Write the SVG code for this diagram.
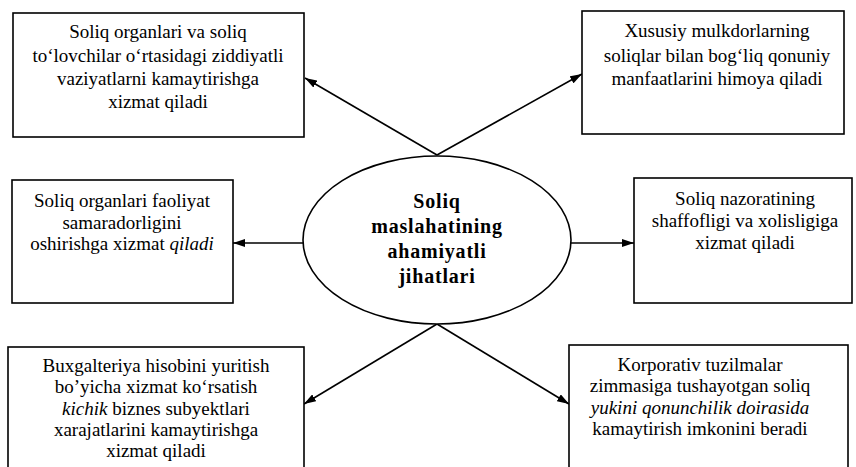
<svg xmlns="http://www.w3.org/2000/svg" width="856" height="467" viewBox="0 0 856 467">
  <style>
    .box { fill: #fff; stroke: #000; stroke-width: 1.6; }
    .txt { font-family: "Liberation Serif", "Times New Roman", serif; font-size: 19px; fill: #000; text-anchor: middle; }
    .ctr { font-family: "Liberation Serif", "Times New Roman", serif; font-size: 20px; font-weight: bold; letter-spacing: 0.8px; fill: #000; text-anchor: middle; }
    .it { font-style: italic; }
    .link { fill: none; stroke: #000; stroke-width: 1.6; marker-end: url(#arrow); }
  </style>
  <defs>
    <marker id="arrow" viewBox="0 0 12 8" refX="12" refY="4" markerWidth="12" markerHeight="8" markerUnits="userSpaceOnUse" orient="auto">
      <path d="M0,0 L12,4 L0,8 Z" fill="#000"/>
    </marker>
  </defs>
  <rect width="856" height="467" fill="#fff"/>

  <!-- connectors from the central ellipse to each box -->
  <g id="connectors">
    <line class="link" x1="437" y1="155" x2="305" y2="78"/>
    <line class="link" x1="437" y1="155" x2="582" y2="74"/>
    <line class="link" x1="303" y1="243" x2="233" y2="243"/>
    <line class="link" x1="571" y1="243" x2="634" y2="243"/>
    <line class="link" x1="437" y1="324" x2="304" y2="404"/>
    <line class="link" x1="437" y1="324" x2="569" y2="404"/>
  </g>

  <g id="center">
    <ellipse cx="437" cy="240" rx="134" ry="84" fill="#fff" stroke="#000" stroke-width="1.6"/>
    <text class="ctr" x="437" y="208">Soliq</text>
    <text class="ctr" x="437" y="233">maslahatining</text>
    <text class="ctr" x="437" y="258">ahamiyatli</text>
    <text class="ctr" x="437" y="283">jihatlari</text>
  </g>

  <g id="top-left">
    <rect class="box" x="13" y="13" width="291" height="124"/>
    <text class="txt" x="158" y="38">Soliq organlari va soliq</text>
    <text class="txt" x="158" y="62">to‘lovchilar o‘rtasidagi ziddiyatli</text>
    <text class="txt" x="158" y="85">vaziyatlarni kamaytirishga</text>
    <text class="txt" x="158" y="108">xizmat qiladi</text>
  </g>

  <g id="top-right">
    <rect class="box" x="582" y="11" width="262" height="123"/>
    <text class="txt" x="717" y="37">Xususiy mulkdorlarning</text>
    <text class="txt" x="717" y="62">soliqlar bilan bog‘liq qonuniy</text>
    <text class="txt" x="717" y="85">manfaatlarini himoya qiladi</text>
  </g>

  <g id="mid-left">
    <rect class="box" x="12" y="180" width="221" height="123"/>
    <text class="txt" x="122" y="207">Soliq organlari faoliyat</text>
    <text class="txt" x="122" y="229">samaradorligini</text>
    <text class="txt" x="122" y="250">oshirishga xizmat <tspan class="it">qiladi</tspan></text>
  </g>

  <g id="mid-right">
    <rect class="box" x="634" y="178" width="218" height="125"/>
    <text class="txt" x="745" y="205">Soliq nazoratining</text>
    <text class="txt" x="745" y="227">shaffofligi va xolisligiga</text>
    <text class="txt" x="745" y="249">xizmat qiladi</text>
  </g>

  <g id="bottom-left">
    <rect class="box" x="8" y="347" width="296" height="125"/>
    <text class="txt" x="156" y="372">Buxgalteriya hisobini yuritish</text>
    <text class="txt" x="156" y="393">bo’yicha xizmat ko‘rsatish</text>
    <text class="txt" x="156" y="415"><tspan class="it">kichik</tspan> biznes subyektlari</text>
    <text class="txt" x="156" y="436">xarajatlarini kamaytirishga</text>
    <text class="txt" x="156" y="457">xizmat qiladi</text>
  </g>

  <g id="bottom-right">
    <rect class="box" x="569" y="345" width="279" height="127"/>
    <text class="txt" x="700" y="371">Korporativ tuzilmalar</text>
    <text class="txt" x="700" y="392">zimmasiga tushayotgan soliq</text>
    <text class="txt" x="700" y="414"><tspan class="it">yukini qonunchilik doirasida</tspan></text>
    <text class="txt" x="700" y="435">kamaytirish imkonini beradi</text>
  </g>
</svg>
